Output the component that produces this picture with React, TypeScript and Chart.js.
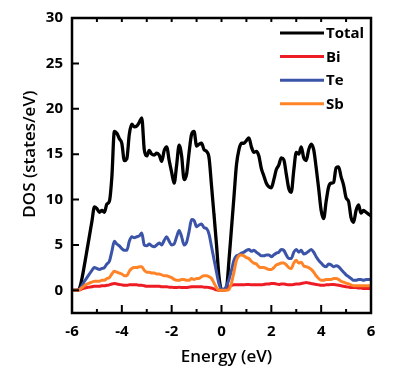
import React, { useEffect, useRef } from "react";
import { Chart, registerables } from "chart.js";

Chart.register(...registerables);

const energy = [
  -6.0, -5.9, -5.8, -5.7, -5.6, -5.5, -5.4, -5.3, -5.2, -5.1,
  -5.0, -4.9, -4.8, -4.7, -4.6, -4.5, -4.4, -4.3, -4.2, -4.1,
  -4.0, -3.9, -3.8, -3.7, -3.6, -3.5, -3.4, -3.3, -3.2, -3.1,
  -3.0, -2.9, -2.8, -2.7, -2.6, -2.5, -2.4, -2.3, -2.2, -2.1,
  -2.0, -1.9, -1.8, -1.7, -1.6, -1.5, -1.4, -1.3, -1.2, -1.1,
  -1.0, -0.9, -0.8, -0.7, -0.6, -0.5, -0.4, -0.3, -0.2, -0.1,
  0.0, 0.1, 0.2, 0.3, 0.4, 0.5, 0.6, 0.7, 0.8, 0.9,
  1.0, 1.1, 1.2, 1.3, 1.4, 1.5, 1.6, 1.7, 1.8, 1.9,
  2.0, 2.1, 2.2, 2.3, 2.4, 2.5, 2.6, 2.7, 2.8, 2.9,
  3.0, 3.1, 3.2, 3.3, 3.4, 3.5, 3.6, 3.7, 3.8, 3.9,
  4.0, 4.1, 4.2, 4.3, 4.4, 4.5, 4.6, 4.7, 4.8, 4.9,
  5.0, 5.1, 5.2, 5.3, 5.4, 5.5, 5.6, 5.7, 5.8, 5.9,
  6.0,
];

const totalDos = [
  0, 0, 0, 0.2, 1.3, 2.8, 4.4, 6.0, 7.6, 9.2,
  9.0, 8.6, 8.8, 8.6, 9.5, 9.8, 12.5, 17.5, 17.3, 16.7,
  16.2, 14.3, 14.5, 17.2, 18.3, 18.0, 18.1, 18.5, 19.0, 15.5,
  14.8, 15.4, 15.0, 14.9, 15.1, 14.9, 14.2, 15.4, 15.8, 14.3,
  13.0, 11.8, 13.8, 16.0, 14.8, 12.2, 12.8, 15.2, 17.2, 17.5,
  15.9, 16.1, 16.2, 15.5, 15.3, 14.6, 11.5, 8.3, 5.0, 1.5,
  0.1, 0.1, 0.3, 3.3, 6.8, 10.3, 13.8, 15.5, 16.2, 16.2,
  16.5, 16.8, 15.8, 15.2, 15.3, 14.8, 13.4, 12.6, 11.8, 11.4,
  11.3, 12.2, 13.3, 13.8, 14.6, 14.4, 12.8, 11.2, 10.8, 13.2,
  15.2, 15.0, 15.8, 14.6, 14.3, 15.5, 16.1, 15.5, 13.5, 11.2,
  8.8, 7.9, 9.8, 11.4, 11.8, 11.9, 13.5, 13.6, 12.5, 11.6,
  10.2, 9.8, 8.0, 7.5, 8.8, 9.4, 8.5, 8.8, 8.6, 8.4,
  8.2,
];

const biDos = [
  0, 0, 0, 0.05, 0.15, 0.25, 0.3, 0.35, 0.4, 0.45,
  0.45, 0.45, 0.5, 0.5, 0.55, 0.6, 0.7, 0.75, 0.7, 0.65,
  0.6, 0.55, 0.55, 0.6, 0.6, 0.6, 0.6, 0.55, 0.55, 0.5,
  0.45, 0.45, 0.45, 0.45, 0.45, 0.45, 0.4, 0.4, 0.4, 0.35,
  0.35, 0.3, 0.3, 0.35, 0.3, 0.3, 0.3, 0.35, 0.4, 0.4,
  0.4, 0.4, 0.4, 0.35, 0.35, 0.3, 0.25, 0.15, 0.05, 0,
  0, 0, 0.1, 0.35, 0.55, 0.6, 0.6, 0.6, 0.6, 0.6,
  0.65, 0.65, 0.6, 0.6, 0.6, 0.6, 0.6, 0.65, 0.7, 0.7,
  0.75, 0.75, 0.7, 0.65, 0.7, 0.7, 0.65, 0.6, 0.6, 0.65,
  0.7, 0.7, 0.75, 0.8, 0.85, 0.8, 0.75, 0.7, 0.65, 0.6,
  0.55, 0.55, 0.6, 0.6, 0.65, 0.65, 0.6, 0.55, 0.5, 0.45,
  0.4, 0.35, 0.3, 0.3, 0.3, 0.25, 0.25, 0.2, 0.2, 0.2,
  0.2,
];

const teDos = [
  0, 0, 0, 0.1, 0.5, 1.0, 1.4, 1.8, 2.2, 2.5,
  2.4, 2.3, 2.4, 2.5, 2.9, 3.2, 4.3, 5.4, 5.1, 4.9,
  4.6, 4.4, 4.4, 5.4, 5.9, 5.8, 5.9, 6.0, 6.3, 5.0,
  4.9, 5.1, 4.9, 4.8, 5.0, 5.2, 5.0, 5.5, 5.9, 5.4,
  5.0, 5.1, 5.9, 6.6, 5.9, 5.0, 5.3, 6.5, 7.8, 7.7,
  7.0, 7.2, 7.3, 6.9, 6.8, 6.2, 4.8, 3.4, 2.0, 0.7,
  0.1, 0.1, 0.5, 1.2, 2.2, 3.3, 3.8, 3.9, 4.1, 4.2,
  4.4, 4.5, 4.3, 4.4, 4.2, 4.0, 3.8, 3.8, 3.9, 3.9,
  3.7, 3.9, 4.1, 4.2, 4.5, 4.4, 3.9, 3.5, 3.5, 4.2,
  4.5, 4.2, 4.4, 4.0, 4.1, 4.3, 4.5, 4.2, 3.7, 3.3,
  3.0, 2.7, 2.6, 2.9, 2.8, 2.6, 2.7, 2.6, 2.3, 2.0,
  1.7, 1.5, 1.3, 1.1, 1.1, 1.2, 1.2, 1.1, 1.2, 1.2,
  1.2,
];

const sbDos = [
  0, 0, 0, 0.05, 0.3, 0.5, 0.7, 0.8, 0.9, 1.0,
  1.0, 1.0, 1.1, 1.1, 1.3, 1.4, 1.8, 2.1, 2.0, 1.9,
  1.8, 1.6, 1.6, 2.1, 2.4, 2.5, 2.5, 2.6, 2.6, 2.2,
  2.0, 2.0, 1.9, 1.9, 1.8, 1.8, 1.7, 1.6, 1.6, 1.5,
  1.4, 1.2, 1.1, 1.1, 1.2, 1.2, 1.1, 1.1, 1.3, 1.2,
  1.3, 1.3, 1.5, 1.6, 1.6, 1.5, 1.3, 0.8, 0.3, 0,
  0, 0, 0, 0.1, 0.8, 2.0, 3.3, 3.8, 3.9, 3.8,
  3.6, 3.5, 3.2, 3.0, 2.9, 2.6, 2.5, 2.5, 2.4, 2.3,
  2.3, 2.5, 2.8, 2.9, 3.0, 3.0, 2.8, 2.5, 2.4, 3.0,
  3.3, 3.0, 3.1, 2.7, 2.6, 2.5, 2.3, 2.0, 1.6, 1.3,
  1.1, 1.1, 1.2, 1.2, 1.2, 1.3, 1.3, 1.2, 1.0, 0.9,
  0.8, 0.7, 0.6, 0.5, 0.5, 0.5, 0.5, 0.5, 0.5, 0.5,
  0.5,
];

const seriesLabels = ["Total", "Bi", "Te", "Sb"];
const seriesColors = ["#000000", "#ee1c25", "#3b54a8", "#ff8427"];
const seriesValues = [totalDos, biDos, teDos, sbDos];

const xTickValues = [-6, -4, -2, 0, 2, 4, 6];
const xMinorValues = [-5, -3, -1, 1, 3, 5];
const xTopValues = [-5, -4, -3, -2, -1, 0, 1, 2, 3, 4, 5];
const yTickValues = [0, 5, 10, 15, 20, 25, 30];

const xTitle = "Energy (eV)";
const yTitle = "DOS (states/eV)";

const FONT = "'Open Sans', 'Noto Sans', sans-serif";

const framePlugin = {
  id: "frame",
  afterDraw(chart: any) {
    const { ctx, chartArea: a, scales } = chart;
    const x = scales.x;
    const y = scales.y;
    ctx.save();
    ctx.strokeStyle = "#000";
    ctx.lineWidth = 2.5;
    ctx.strokeRect(a.left, a.top, a.right - a.left, a.bottom - a.top);

    ctx.lineWidth = 2;
    ctx.beginPath();
    for (const v of xTickValues) {
      const px = x.getPixelForValue(v);
      ctx.moveTo(px, a.bottom);
      ctx.lineTo(px, a.bottom - 8);
    }
    for (const v of xMinorValues) {
      const px = x.getPixelForValue(v);
      ctx.moveTo(px, a.bottom);
      ctx.lineTo(px, a.bottom - 4);
    }
    for (const v of xTopValues) {
      const px = x.getPixelForValue(v);
      ctx.moveTo(px, a.top);
      ctx.lineTo(px, a.top + 4);
    }
    for (const v of yTickValues) {
      const py = y.getPixelForValue(v);
      ctx.moveTo(a.left, py);
      ctx.lineTo(a.left + 7, py);
    }
    ctx.stroke();

    // legend
    ctx.font = `bold 15px ${FONT}`;
    ctx.textBaseline = "middle";
    ctx.textAlign = "left";
    chart.data.datasets.forEach((ds: any, i: number) => {
      const ly = a.top + 15 + i * 23.6;
      ctx.strokeStyle = ds.borderColor;
      ctx.lineWidth = 3;
      ctx.beginPath();
      ctx.moveTo(a.right - 91, ly);
      ctx.lineTo(a.right - 47, ly);
      ctx.stroke();
      ctx.fillStyle = "#000";
      ctx.fillText(ds.label, a.right - 45, ly + 1);
    });

    // axis titles
    ctx.fillStyle = "#000";
    ctx.font = `600 17px ${FONT}`;
    ctx.textAlign = "center";
    ctx.textBaseline = "middle";
    ctx.fillText(xTitle, (a.left + a.right) / 2 + 5, 357);
    ctx.save();
    ctx.translate(30, y.getPixelForValue(15));
    ctx.rotate(-Math.PI / 2);
    ctx.fillText(yTitle, 0, 0);
    ctx.restore();

    ctx.restore();
  },
};

export default function App() {
  const ref = useRef<HTMLCanvasElement | null>(null);

  useEffect(() => {
    document.body.style.margin = "0";
    if (!ref.current) return;
    const datasets = seriesLabels.map((label, k) => ({
      label,
      data: energy.map((e, i) => ({ x: e, y: seriesValues[k][i] })),
      borderColor: seriesColors[k],
      backgroundColor: seriesColors[k],
      borderWidth: k === 0 ? 3.3 : 3,
      pointRadius: 0,
      fill: false,
      cubicInterpolationMode: "monotone" as const,
      order: 4 - k,
    }));
    const chart = new Chart(ref.current, {
      type: "line",
      data: { datasets },
      options: {
        animation: false,
        responsive: false,
        layout: { padding: { top: 14, right: 29, left: 0, bottom: 0 } },
        plugins: { legend: { display: false }, tooltip: { enabled: false } },
        scales: {
          x: {
            type: "linear",
            min: -6,
            max: 6,
            grid: { display: false, drawTicks: false },
            border: { display: false },
            afterBuildTicks: (s: any) => {
              s.ticks = xTickValues.map((v) => ({ value: v }));
            },
            afterFit: (s: any) => {
              s.height = 63;
            },
            ticks: {
              color: "#000",
              padding: 10,
              maxRotation: 0,
              font: { family: FONT, size: 15, weight: "bold" },
            },
          },
          y: {
            type: "linear",
            min: -2.5,
            max: 30,
            grid: { display: false, drawTicks: false },
            border: { display: false },
            afterBuildTicks: (s: any) => {
              s.ticks = yTickValues.map((v) => ({ value: v }));
            },
            afterFit: (s: any) => {
              s.width = 72;
            },
            ticks: {
              color: "#000",
              padding: 9,
              font: { family: FONT, size: 15, weight: "bold" },
            },
          },
        },
      },
      plugins: [framePlugin],
    });
    return () => chart.destroy();
  }, []);

  return (
    <div style={{ width: 400, height: 376, background: "#fff" }}>
      <canvas ref={ref} width={400} height={376} />
    </div>
  );
}
